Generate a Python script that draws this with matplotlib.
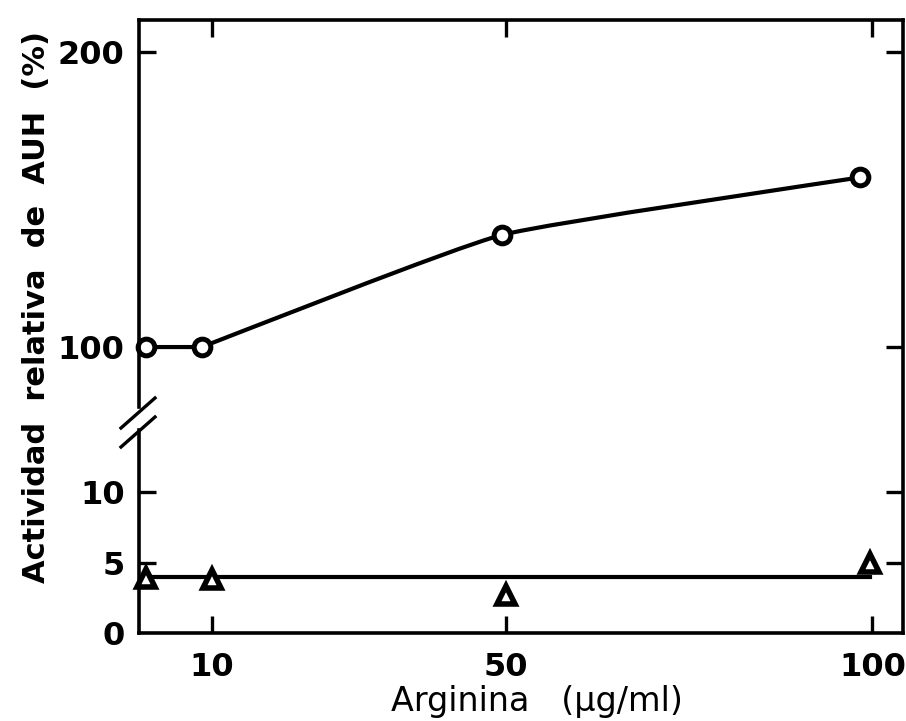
import numpy as np
import matplotlib
matplotlib.use('Agg')
import matplotlib.pyplot as plt
from matplotlib.path import Path
from matplotlib.patches import PathPatch

# AUH activity vs. arginine concentration
arg_circ = [1.0, 8.6, 49.5, 98.3]
act_circ = [100.0, 100.0, 138.0, 157.5]

arg_tri = [1.0, 10.0, 50.0, 99.7]
act_tri = [3.9, 3.8, 2.7, 5.0]
tri_level = 4.0

xticks = [10, 50, 100]
yticks = [0, 5, 10, 100, 200]
ytick_labels = ['0', '5', '10', '100', '200']

# broken y axis: 0..LOW on a fine scale, HIGH..top on a coarse one
LOW, HIGH = 14.4, 77.6
A_LOW = 14.1   # px per unit below the break
A_HIGH = 2.95  # px per unit above the break


def fwd(v):
    v = np.asarray(v, dtype=float)
    lo_end = LOW * A_LOW
    hi_start = 286.0 + (HIGH - 100.0) * A_HIGH
    mid = lo_end + (v - LOW) / (HIGH - LOW) * (hi_start - lo_end)
    hi = 286.0 + (v - 100.0) * A_HIGH
    return np.where(v <= LOW, v * A_LOW, np.where(v >= HIGH, hi, mid))


def inv(p):
    p = np.asarray(p, dtype=float)
    lo_end = LOW * A_LOW
    hi_start = 286.0 + (HIGH - 100.0) * A_HIGH
    mid = LOW + (p - lo_end) / (hi_start - lo_end) * (HIGH - LOW)
    hi = 100.0 + (p - 286.0) / A_HIGH
    return np.where(p <= lo_end, p / A_LOW, np.where(p >= hi_start, hi, mid))


plt.rcParams['font.family'] = 'DejaVu Sans'
fig = plt.figure(figsize=(9.06, 7.21), dpi=100)
ax = fig.add_axes([0.153, 0.122, 0.844, 0.850])
ax.set_yscale('function', functions=(fwd, inv))
ax.set_xlim(0, 104.2)
ax.set_ylim(0, 210.8)

lw = 3.0
ink = 'black'

# smooth curve through the circles (straight plateau then a gentle spline)
pts = np.column_stack([arg_circ, act_circ])
verts = [tuple(pts[0]), tuple(pts[1])]
codes = [Path.MOVETO, Path.LINETO]
n = len(pts)
for i in range(1, n - 1):
    p0 = pts[i - 1] if i > 1 else pts[i]
    p1, p2 = pts[i], pts[i + 1]
    p3 = pts[i + 2] if i + 2 < n else pts[i + 1]
    c1 = p1 + (p2 - p0) / 14.0
    c2 = p2 - (p3 - p1) / 14.0
    verts += [tuple(c1), tuple(c2), tuple(p2)]
    codes += [Path.CURVE4] * 3
ax.add_patch(PathPatch(Path(verts, codes), fill=False, lw=lw, color=ink,
                       capstyle='round', zorder=2))
ax.plot(arg_circ, act_circ, 'o', ms=12, mfc='white', mec=ink, mew=3.6, zorder=3,
        clip_on=False)

# triangles with their mean level
ax.plot([0, arg_tri[-1]], [tri_level, tri_level], color=ink, lw=lw, zorder=2)
ax.plot(arg_tri, act_tri, '^', ms=13, mfc='white', mec=ink, mew=4.0, zorder=3,
        clip_on=False)

# spines and ticks
for s in ax.spines.values():
    s.set_linewidth(2.6)
ax.spines['left'].set_visible(False)
lx = [0, 0]
ax.plot(lx, [0, LOW], color=ink, lw=2.6, clip_on=False, zorder=4)
ax.plot(lx, [HIGH + 2.0, 210.8], color=ink, lw=2.6, clip_on=False, zorder=4)

ax.set_xticks(xticks)
ax.set_xticklabels([str(t) for t in xticks])
ax.set_yticks(yticks)
ax.set_yticklabels(ytick_labels)
ax.tick_params(axis='both', direction='in', length=12, width=2.4,
               labelsize=23, top=True, right=True)
ax.tick_params(axis='y', pad=10)
ax.tick_params(axis='x', pad=14)
ax.yaxis.get_major_ticks()[0].tick1line.set_visible(False)
ax.yaxis.get_major_ticks()[0].tick2line.set_visible(False)
for lab in ax.get_xticklabels() + ax.get_yticklabels():
    lab.set_fontweight('bold')

# break marks on the left axis
for yb in (398.0, 417.0):
    fig.add_artist(plt.Line2D([121 / 906, 155 / 906],
                              [1 - (yb + 30) / 721, 1 - yb / 721],
                              color=ink, lw=2.4))

ax.set_xlabel('Arginina   (µg/ml)', fontsize=24)
ax.xaxis.set_label_coords(0.521, -0.085)
ax.set_ylabel('Actividad  relativa  de  AUH  (%)', fontsize=22,
              fontweight='bold')
ax.yaxis.set_label_coords(-0.114, 0.532)

fig.savefig('out.png', dpi=100, facecolor='white')
